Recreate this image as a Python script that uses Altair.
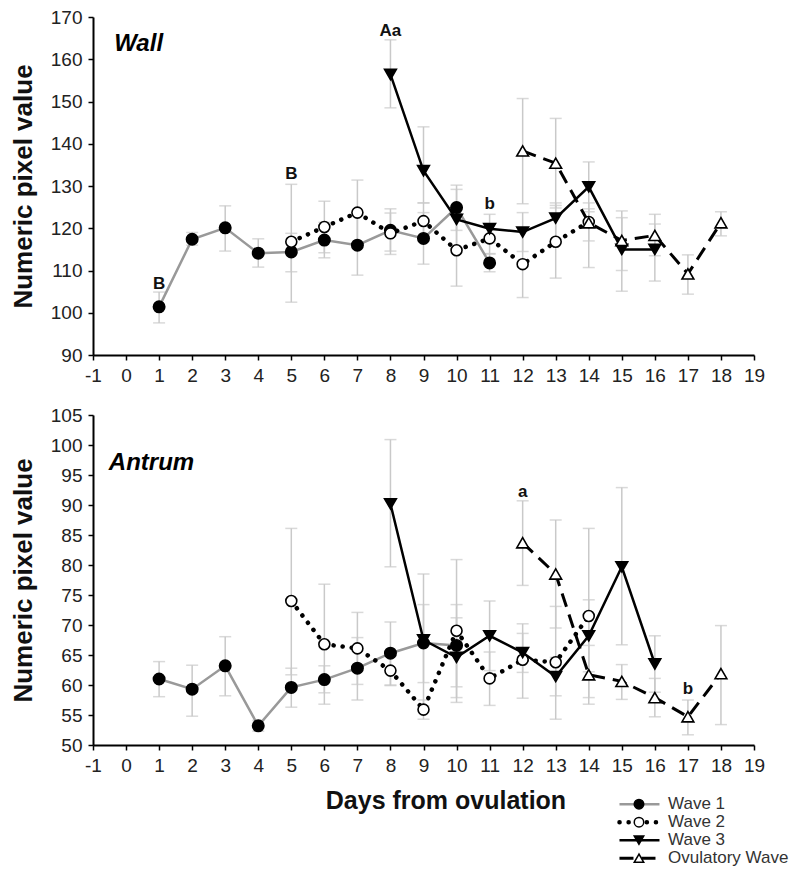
import altair as alt
import pandas as pd

FONT = "Liberation Sans"
SERIES = ["Wave 1", "Wave 2", "Wave 3", "Ovulatory Wave"]
X_TICKS = list(range(-1, 20))

# ---------------- Wall ----------------
WALL_Y_TICKS = list(range(90, 171, 10))
wall_w1_day = [1, 2, 3, 4, 5, 6, 7, 8, 9, 10, 11]
wall_w1_mean = [101.4, 117.4, 120.1, 114.1, 114.4, 117.2, 116.0, 119.5, 117.6, 124.9, 111.8]
wall_w1_lo = [97.6, 116.0, 114.6, 110.8, 109.7, 113.0, 108.9, 114.6, 111.5, 119.5, 109.7]
wall_w1_hi = [104.9, 119.0, 125.3, 117.5, 118.8, 121.4, 123.0, 124.6, 123.7, 130.2, 113.9]

wall_w2_day = [5, 6, 7, 8, 9, 10, 11, 12, 13, 14]
wall_w2_mean = [116.8, 120.3, 123.7, 118.8, 121.7, 114.8, 117.6, 111.5, 116.8, 121.5]
wall_w2_lo = [102.5, 114.2, 116.0, 113.8, 117.0, 106.3, 114.0, 103.6, 108.2, 117.0]
wall_w2_hi = [130.4, 126.4, 131.4, 123.6, 126.0, 123.3, 121.0, 119.4, 125.4, 126.0]

wall_w3_day = [8, 9, 10, 11, 12, 13, 14, 15, 16]
wall_w3_mean = [156.4, 133.6, 122.1, 119.9, 119.1, 122.4, 129.8, 115.0, 115.0]
wall_w3_lo = [148.5, 126.0, 115.0, 116.5, 114.5, 117.4, 123.9, 105.1, 107.5]
wall_w3_hi = [164.6, 144.0, 129.2, 123.3, 123.7, 126.0, 135.7, 122.5, 121.0]

wall_ov_day = [12, 13, 14, 15, 16, 17, 18]
wall_ov_mean = [138.3, 135.4, 121.3, 117.1, 118.3, 109.2, 121.3]
wall_ov_lo = [125.8, 124.8, 110.7, 110.0, 113.5, 104.4, 118.2]
wall_ov_hi = [150.7, 146.0, 124.6, 124.1, 123.3, 113.7, 123.9]

wall_note_day = [1, 5, 8, 11]
wall_note_y = [106.8, 132.8, 166.7, 125.7]
wall_note_text = ["B", "B", "Aa", "b"]

# ---------------- Antrum ----------------
ANTRUM_Y_TICKS = list(range(50, 106, 5))
antrum_w1_day = [1, 2, 3, 4, 5, 6, 7, 8, 9, 10]
antrum_w1_mean = [61.0, 59.3, 63.2, 53.2, 59.6, 60.9, 62.8, 65.3, 67.0, 66.6]
antrum_w1_lo = [58.05, 54.8, 58.2, 52.3, 56.3, 58.7, 57.5, 60.0, 60.4, 59.7]
antrum_w1_hi = [63.9, 63.3, 68.05, 54.1, 62.8, 63.2, 67.9, 70.5, 73.4, 73.4]

antrum_w2_day = [5, 6, 7, 8, 9, 10, 11, 12, 13, 14]
antrum_w2_mean = [74.0, 66.8, 66.1, 62.4, 55.9, 69.05, 61.1, 64.2, 63.8, 71.5]
antrum_w2_lo = [61.7, 56.8, 60.1, 59.9, 54.3, 57.1, 56.6, 57.8, 54.3, 57.9]
antrum_w2_hi = [86.1, 76.8, 72.1, 64.9, 57.5, 80.9, 65.5, 70.2, 73.1, 86.1]

antrum_w3_day = [8, 9, 10, 11, 12, 13, 14, 15, 16]
antrum_w3_mean = [90.2, 67.5, 64.6, 68.2, 65.4, 61.4, 68.2, 79.7, 63.5]
antrum_w3_lo = [79.7, 56.5, 57.9, 62.4, 62.1, 58.2, 62.2, 66.7, 58.8]
antrum_w3_hi = [100.9, 78.5, 71.2, 74.0, 68.6, 64.6, 74.2, 92.9, 68.2]

antrum_ov_day = [12, 13, 14, 15, 16, 17, 18]
antrum_ov_mean = [83.7, 78.5, 61.7, 60.6, 57.9, 54.7, 61.9]
antrum_ov_lo = [76.6, 69.5, 56.8, 57.6, 54.7, 51.7, 53.4]
antrum_ov_hi = [90.7, 87.5, 66.6, 63.4, 61.1, 57.5, 69.9]

antrum_note_day = [12, 17]
antrum_note_y = [92.2, 59.3]
antrum_note_text = ["a", "b"]

# ---------------- styles ----------------
ERR = "#c9c9c9"
STYLE = {
    "Wave 1": dict(line=dict(color="#999999", strokeWidth=2.5),
                   point=dict(shape="circle", fill="black", stroke="black", size=130)),
    "Wave 2": dict(line=dict(color="black", strokeWidth=4.5, strokeDash=[0.1, 9], strokeCap="round"),
                   point=dict(shape="circle", fill="white", stroke="black", size=120)),
    "Wave 3": dict(line=dict(color="black", strokeWidth=2.5),
                   point=dict(shape="triangle-down", fill="black", stroke="black", size=140)),
    "Ovulatory Wave": dict(line=dict(color="black", strokeWidth=3, strokeDash=[14, 8]),
                           point=dict(shape="triangle-up", fill="white", stroke="black", size=140)),
}


def series_df(name, day, mean, lo, hi):
    return pd.DataFrame({"series": name, "day": day, "mean": mean, "lo": lo, "hi": hi})


def panel(dfs, y_domain, y_ticks, height, label, label_x, label_y, notes):
    df = pd.concat(dfs, ignore_index=True)
    xs = alt.Scale(domain=[-1, 19], nice=False, zero=False)
    ys = alt.Scale(domain=y_domain, nice=False, zero=False)
    xax = alt.Axis(values=X_TICKS, title=None, labelExpr="'' + datum.value")
    yax = alt.Axis(values=y_ticks, title="Numeric pixel value", labelExpr="'' + datum.value")

    def X(f):
        return alt.X(f"{f}:Q", scale=xs, axis=xax)

    def Y(f):
        return alt.Y(f"{f}:Q", scale=ys, axis=yax)

    base = alt.Chart(df)
    layers = [
        base.mark_rule(color=ERR, strokeWidth=1.5).encode(x=X("day"), y=Y("lo"), y2="hi:Q"),
        base.mark_tick(orient="horizontal", size=12, thickness=1.5, color=ERR).encode(x=X("day"), y=Y("lo")),
        base.mark_tick(orient="horizontal", size=12, thickness=1.5, color=ERR).encode(x=X("day"), y=Y("hi")),
    ]
    for s in SERIES:
        layers.append(base.transform_filter(alt.datum.series == s)
                      .mark_line(**STYLE[s]["line"]).encode(x=X("day"), y=Y("mean")))
    for s in SERIES:
        layers.append(base.transform_filter(alt.datum.series == s)
                      .mark_point(filled=True, opacity=1, strokeWidth=1.6, **STYLE[s]["point"])
                      .encode(x=X("day"), y=Y("mean")))
    ndf = pd.DataFrame({"day": notes[0], "mean": notes[1], "t": notes[2]})
    layers.append(alt.Chart(ndf).mark_text(font=FONT, fontSize=17, fontWeight="bold", color="#111111")
                  .encode(x=X("day"), y=Y("mean"), text="t:N"))
    ldf = pd.DataFrame({"day": [label_x], "mean": [label_y], "t": [label]})
    layers.append(alt.Chart(ldf).mark_text(font=FONT, fontSize=24, fontWeight="bold", fontStyle="italic",
                                           align="left", color="black")
                  .encode(x=X("day"), y=Y("mean"), text="t:N"))
    return alt.layer(*layers).properties(width=661, height=height)


top = panel(
    [series_df("Wave 1", wall_w1_day, wall_w1_mean, wall_w1_lo, wall_w1_hi),
     series_df("Wave 2", wall_w2_day, wall_w2_mean, wall_w2_lo, wall_w2_hi),
     series_df("Wave 3", wall_w3_day, wall_w3_mean, wall_w3_lo, wall_w3_hi),
     series_df("Ovulatory Wave", wall_ov_day, wall_ov_mean, wall_ov_lo, wall_ov_hi)],
    [90, 170], WALL_Y_TICKS, 338, "Wall", -0.36, 163.6,
    (wall_note_day, wall_note_y, wall_note_text))

bottom = panel(
    [series_df("Wave 1", antrum_w1_day, antrum_w1_mean, antrum_w1_lo, antrum_w1_hi),
     series_df("Wave 2", antrum_w2_day, antrum_w2_mean, antrum_w2_lo, antrum_w2_hi),
     series_df("Wave 3", antrum_w3_day, antrum_w3_mean, antrum_w3_lo, antrum_w3_hi),
     series_df("Ovulatory Wave", antrum_ov_day, antrum_ov_mean, antrum_ov_lo, antrum_ov_hi)],
    [50, 105], ANTRUM_Y_TICKS, 330, "Antrum", -0.52, 97.0,
    (antrum_note_day, antrum_note_y, antrum_note_text))

# ---------------- legend + x title ----------------
leg = pd.DataFrame({"series": SERIES, "row": [0, 1, 2, 3],
                    "x0": 14.93, "x1": 16.14, "xm": 15.52, "xt": 16.4})
lxs = alt.Scale(domain=[-1, 19], nice=False, zero=False)
lys = alt.Scale(domain=[-0.9, 3.6], nice=False, zero=False, reverse=True)
lb = alt.Chart(leg)
leg_layers = []
for s in SERIES:
    leg_layers.append(lb.transform_filter(alt.datum.series == s)
                      .mark_rule(**STYLE[s]["line"])
                      .encode(x=alt.X("x0:Q", scale=lxs, axis=None), x2="x1:Q",
                              y=alt.Y("row:Q", scale=lys, axis=None)))
for s in SERIES:
    p = dict(STYLE[s]["point"])
    p["size"] = 90
    leg_layers.append(lb.transform_filter(alt.datum.series == s)
                      .mark_point(filled=True, opacity=1, strokeWidth=1.5, **p)
                      .encode(x=alt.X("xm:Q", scale=lxs, axis=None),
                              y=alt.Y("row:Q", scale=lys, axis=None)))
leg_layers.append(lb.mark_text(font=FONT, fontSize=17, align="left", color="#333333")
                  .encode(x=alt.X("xt:Q", scale=lxs, axis=None),
                          y=alt.Y("row:Q", scale=lys, axis=None), text="series:N"))
tdf = pd.DataFrame({"x": [9.68], "y": [-0.17], "t": ["Days from ovulation"]})
leg_layers.append(alt.Chart(tdf).mark_text(font=FONT, fontSize=25, fontWeight="bold", color="#111111")
                  .encode(x=alt.X("x:Q", scale=lxs, axis=None),
                          y=alt.Y("y:Q", scale=lys, axis=None), text="t:N"))
legend = alt.layer(*leg_layers).properties(width=661, height=81)

chart = (
    alt.vconcat(alt.vconcat(top, bottom, spacing=21), legend, spacing=13)
    .properties(padding={"left": 2, "top": 0, "right": 0, "bottom": 0}, background="white")
    .configure_view(stroke=None)
    .configure_axis(
        labelFont=FONT, labelFontSize=19, labelColor="#222222", labelPadding=6,
        labelFlush=False, labelOverlap=False,
        titleFont=FONT, titleFontSize=26, titleFontWeight="bold", titleColor="#111111", titlePadding=14,
        domainColor="black", domainWidth=2, tickColor="black", tickWidth=1.5, tickSize=5,
        grid=False,
    )
)

chart.save("out.html", embed_options={"renderer": "svg", "actions": False})
